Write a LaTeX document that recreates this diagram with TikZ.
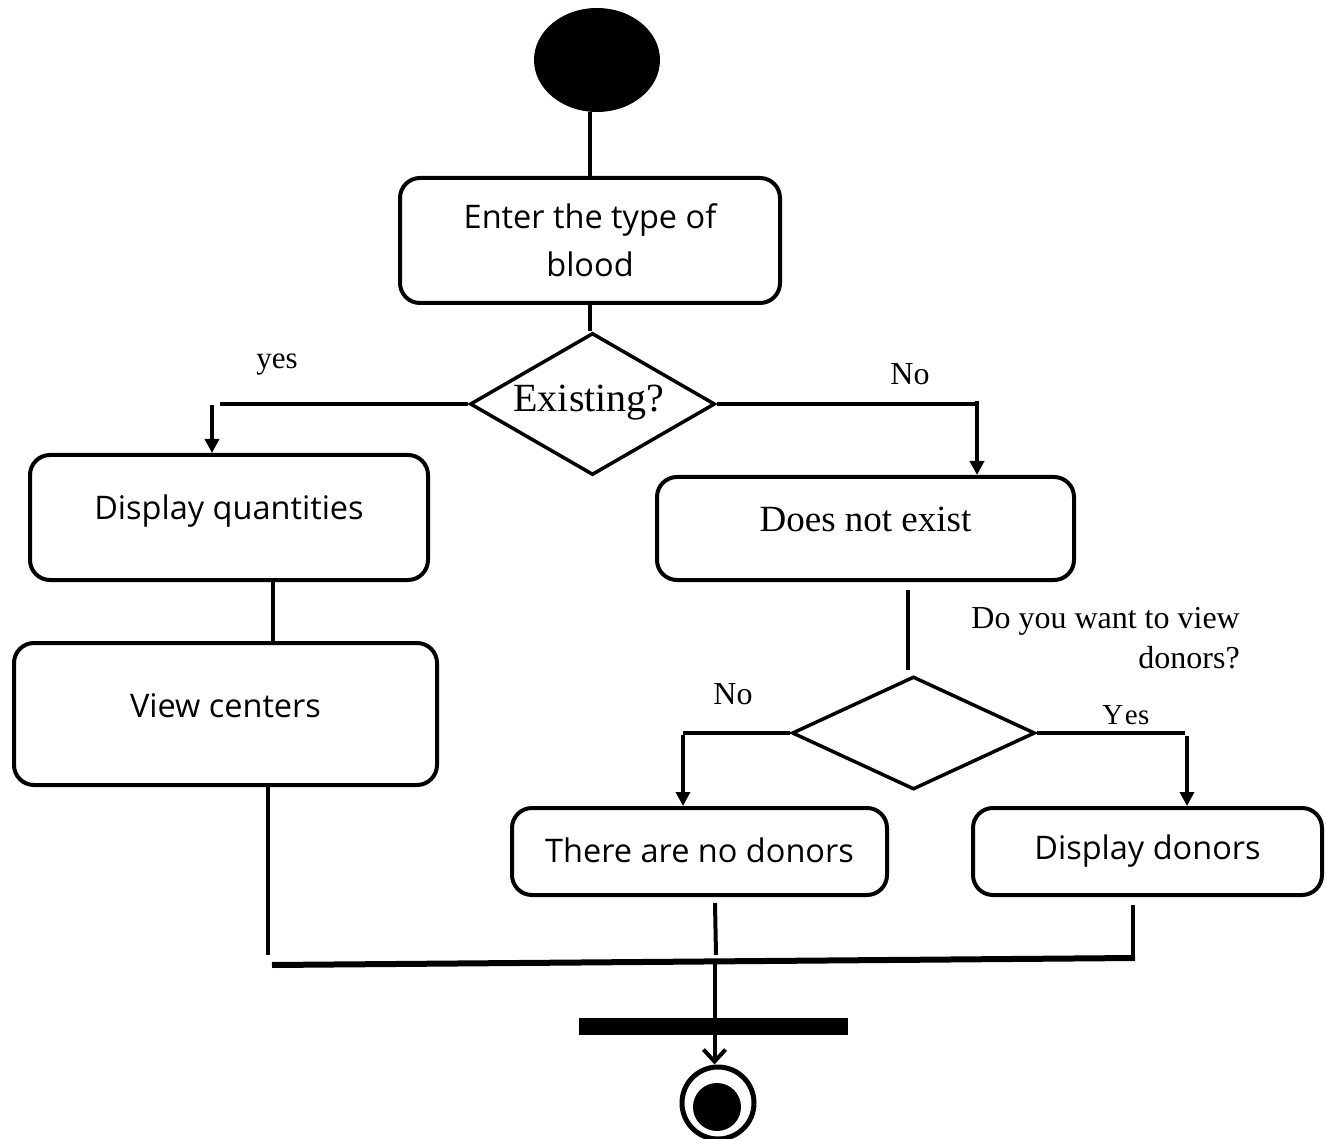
\documentclass[tikz,border=0pt]{standalone}
\usepackage{fontspec}
\setmainfont{Liberation Serif}
\newfontfamily\boxfont{Open Sans}
\usetikzlibrary{shapes.geometric,arrows.meta}
\begin{document}
\begin{tikzpicture}[x=1pt,y=-1pt,
  actbox/.style={draw, line width=4pt, rounded corners=20pt, inner sep=0pt, align=center,
     font=\boxfont\fontsize{32.5}{48}\selectfont},
  serifbox/.style={actbox, font=\fontsize{37}{40}\selectfont},
  decision/.style={draw, diamond, line width=3.5pt, inner sep=0pt},
  conn/.style={line width=4pt},
  arr/.style={conn, -{Triangle[length=14pt,width=14pt]}},
  lbl/.style={font=\fontsize{31}{34}\selectfont, inner sep=0pt}]
\useasboundingbox (0,0) rectangle (1326,1139);

% start
\node[ellipse, fill=black, minimum width=126pt, minimum height=104pt, inner sep=0pt] (start) at (597,60) {};

% activities
\node[actbox, minimum width=380pt, minimum height=125pt] (enter) at (590,240.5) {Enter the type of\\blood};
\node[decision, minimum width=245pt, minimum height=142pt] (d1) at (592.5,404) {};
\node[font=\fontsize{40}{42}\selectfont, inner sep=0pt] (d1t) at (589,403) {Existing?};
\node[actbox, minimum width=398pt, minimum height=125pt] (dq) at (229,517.5) {\raisebox{20pt}{Display quantities}};
\node[actbox, minimum width=423pt, minimum height=142pt] (vc) at (225.5,714) {\raisebox{17pt}{View centers}};
\node[serifbox, minimum width=417pt, minimum height=103pt] (dne) at (865.5,528.5) {\raisebox{18pt}{Does not exist}};
\node[decision, minimum width=243pt, minimum height=113pt] (d2) at (913.5,733) {};
\node[actbox, minimum width=375pt, minimum height=87pt] (nod) at (699.5,851.5) {\raisebox{3pt}{There are no donors}};
\node[actbox, minimum width=349pt, minimum height=87pt] (dd) at (1147.5,851.5) {Display donors};

% labels
\node[lbl] (lyes) at (277,365) {yes};
\node[lbl, font=\fontsize{32}{34}\selectfont] (lno1) at (910,374) {No};
\node[lbl, align=right, font=\fontsize{32}{40}\selectfont, anchor=north east] (lq) at (1240,607) {Do you want to view\\donors?};
\node[lbl, font=\fontsize{32}{34}\selectfont] (lno2) at (733,694) {No};
\node[lbl, font=\fontsize{29}{34}\selectfont] (lyes2) at (1126,715) {Y\kern1.5pt e\kern0.5pt s};

% bar and final
\node[rectangle, fill=black, minimum width=269pt, minimum height=17pt, inner sep=0pt] (bar) at (713.5,1026.5) {};
\node[circle, draw, line width=5pt, minimum size=72pt, inner sep=0pt] (final) at (718,1103) {};
\node[circle, fill=black, minimum size=48pt, inner sep=0pt] (finalin) at (717,1107) {};

% helper coordinates
\coordinate (y1) at (220,403);
\coordinate (y1a) at (212,405);
\coordinate (n1) at (977,401);
\coordinate (q1) at (273,580);
\coordinate (e1) at (908,590);
\coordinate (e2) at (908,670);
\coordinate (n2) at (683,731);
\coordinate (n2a) at (683,735);
\coordinate (y2) at (1185,732);
\coordinate (y2a) at (1187,736);
\coordinate (v1) at (268,785);
\coordinate (v2) at (268,955);
\coordinate (t1) at (715,903);
\coordinate (t2) at (716,955);
\coordinate (s1) at (1133,905);
\coordinate (s2) at (1133,958);
\coordinate (jl) at (272,965);
\coordinate (jr) at (1135,958);
\coordinate (jm) at (714.5,962);

% connectors
\draw[conn] (start.south -| enter.north) -- (enter.north);
\draw[conn] (enter.south) -- (enter.south |- d1.north);
\draw[conn] (d1.west) -- (d1.west -| y1);
\draw[arr] (y1a) -- (y1a |- dq.north);
\draw[conn] (d1.east) -- (d1.east -| n1) -- (n1);
\draw[arr] (n1) -- (n1 |- dne.north);
\draw[conn] (q1) -- (q1 |- vc.north);
\draw[conn] (e1) -- (e2);
\draw[conn] (d2.west) -- (d2.west -| n2);
\draw[arr] (n2a) -- (n2a |- nod.north);
\draw[conn] (d2.east) -- (d2.east -| y2);
\draw[arr] (y2a) -- (y2a |- dd.north);
\draw[conn] (v1) -- (v2);
\draw[conn] (t1) -- (t2);
\draw[conn] (s1) -- (s2);
\draw[line width=6pt] (jl) -- (jr);
\draw[conn, -{Straight Barb[length=12pt,width=22pt,line width=4pt]}] (jm) -- (final.north -| jm);
\end{tikzpicture}
\end{document}
